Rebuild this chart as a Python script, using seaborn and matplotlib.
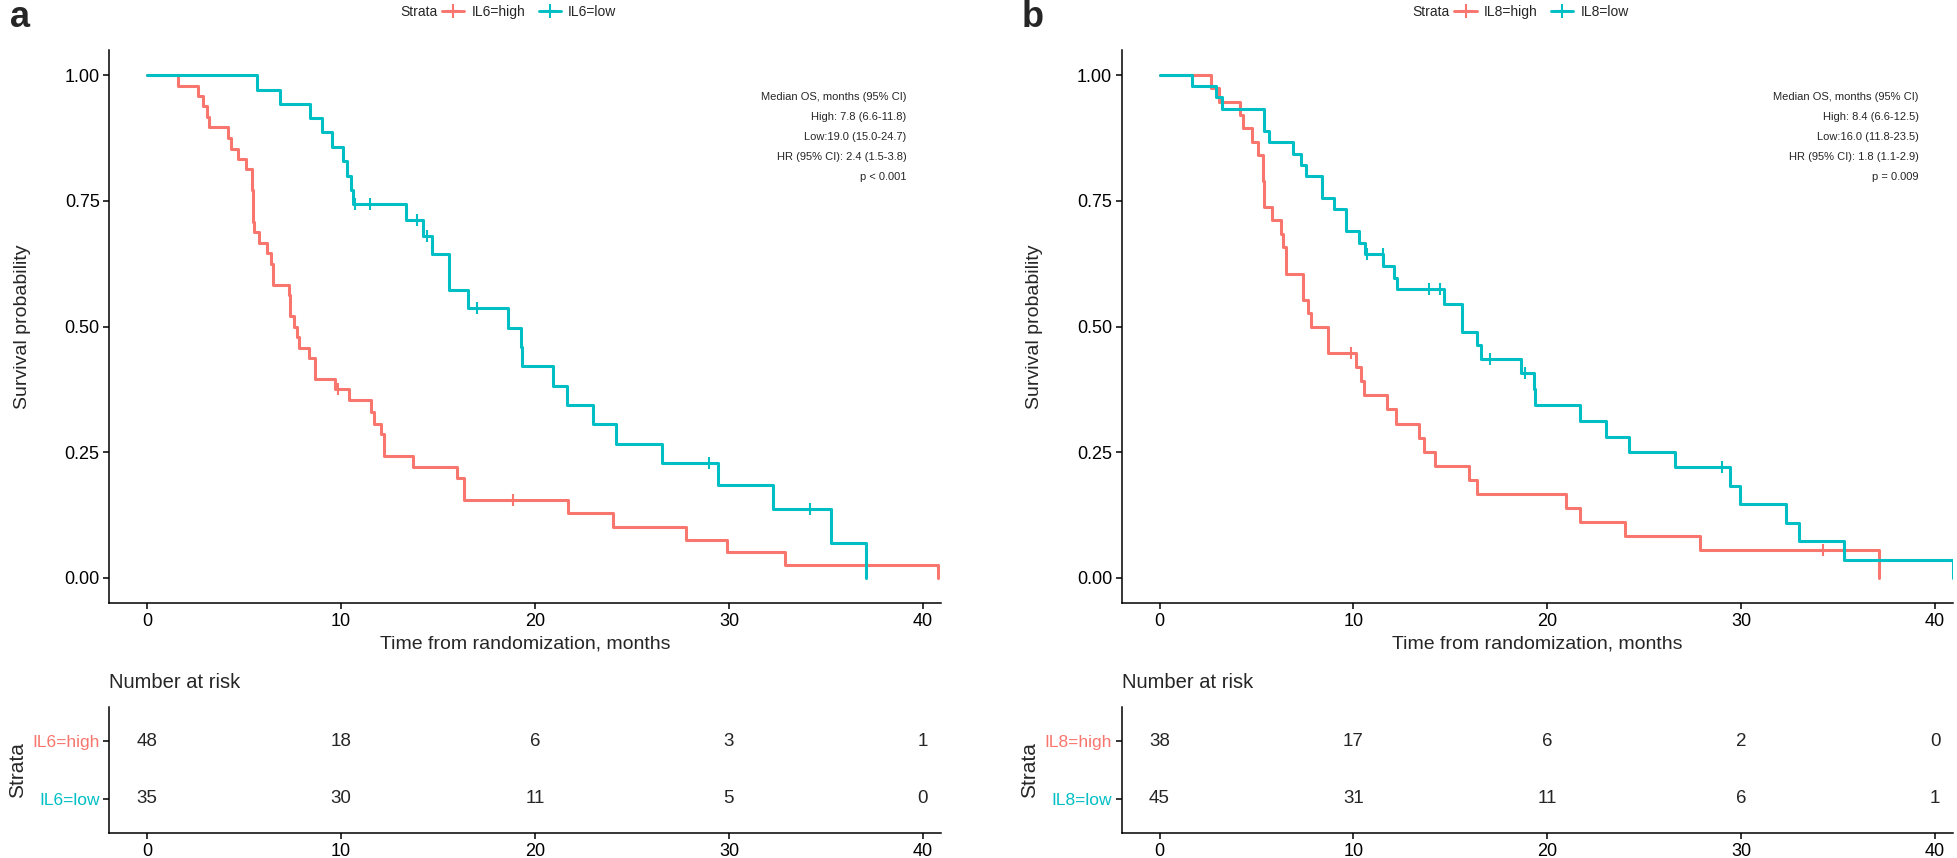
import numpy as np
import pandas as pd
import matplotlib
matplotlib.use("Agg")
import matplotlib.pyplot as plt
import seaborn as sns
from matplotlib.lines import Line2D

RED = "#F8766D"
TEAL = "#00BFC4"

# ---- panel a: IL6 ----
a_high_t = [0, 1.6, 2.6, 2.9, 3.1, 3.2, 4.15, 4.3, 4.7, 5.1, 5.38, 5.45, 5.5, 5.75,
            6.2, 6.4, 6.5, 7.3, 7.35, 7.55, 7.7, 7.85, 8.35, 8.65, 9.7, 10.4, 11.55,
            11.7, 12.05, 12.2, 13.7, 16.0, 16.35, 21.7, 24.0, 27.8, 29.9, 32.9, 40.8]
a_high_s = [1.0, 0.979, 0.958, 0.938, 0.917, 0.896, 0.875, 0.854, 0.833, 0.813, 0.771,
            0.708, 0.688, 0.667, 0.646, 0.625, 0.583, 0.5625, 0.521, 0.5, 0.479, 0.458,
            0.438, 0.396, 0.375, 0.354, 0.329, 0.307, 0.286, 0.243, 0.22, 0.198, 0.154,
            0.129, 0.102, 0.076, 0.051, 0.025, 0.0]
a_high_cens = [9.83, 18.84]

a_low_t = [0, 5.64, 6.84, 8.39, 8.99, 9.51, 10.11, 10.28, 10.49, 10.59, 13.34, 14.2,
           14.67, 15.58, 16.56, 18.62, 19.26, 19.34, 20.94, 21.63, 23.0, 24.17, 26.56,
           29.42, 32.29, 35.26, 37.07]
a_low_s = [1.0, 0.971, 0.943, 0.914, 0.886, 0.857, 0.829, 0.8, 0.771, 0.743, 0.712, 0.68,
           0.644, 0.573, 0.537, 0.498, 0.46, 0.421, 0.382, 0.344, 0.306, 0.267, 0.229,
           0.184, 0.137, 0.069, 0.0]
a_low_cens = [10.71, 11.49, 13.89, 14.44, 17.02, 28.97, 34.18]

a_strata = ["IL6=high", "IL6=low"]
a_risk_high = [48, 18, 6, 3, 1]
a_risk_low = [35, 30, 11, 5, 0]
a_notes = ["Median OS, months (95% CI)", "High: 7.8 (6.6-11.8)", "Low:19.0 (15.0-24.7)",
           "HR (95% CI): 2.4 (1.5-3.8)", "p < 0.001"]

# ---- panel b: IL8 ----
b_high_t = [0, 2.64, 3.09, 4.16, 4.3, 4.76, 5.07, 5.36, 5.4, 5.79, 6.26, 6.39, 6.52,
            7.39, 7.68, 7.82, 8.68, 10.13, 10.39, 10.52, 11.73, 12.21, 13.36, 13.62,
            14.19, 15.94, 16.38, 20.94, 21.67, 24.03, 27.87, 37.11]
b_high_s = [1.0, 0.974, 0.947, 0.921, 0.895, 0.868, 0.842, 0.789, 0.737, 0.711, 0.684,
            0.658, 0.605, 0.553, 0.526, 0.5, 0.447, 0.419, 0.391, 0.363, 0.335, 0.307,
            0.279, 0.251, 0.223, 0.195, 0.167, 0.139, 0.111, 0.083, 0.055, 0.0]
b_high_cens = [9.87, 34.22]

b_low_t = [0, 1.66, 2.92, 3.21, 5.41, 5.62, 6.86, 7.31, 7.56, 8.37, 9.01, 9.61, 10.27,
           10.61, 11.55, 12.07, 12.25, 14.65, 15.62, 16.38, 16.58, 18.65, 19.3, 19.35,
           21.67, 23.05, 24.2, 26.58, 29.42, 29.92, 32.33, 32.98, 35.3, 40.9]
b_low_s = [1.0, 0.978, 0.956, 0.933, 0.889, 0.867, 0.844, 0.822, 0.8, 0.756, 0.733,
           0.689, 0.667, 0.644, 0.62, 0.597, 0.574, 0.545, 0.49, 0.463, 0.435, 0.408,
           0.376, 0.344, 0.313, 0.281, 0.25, 0.22, 0.183, 0.147, 0.109, 0.073, 0.036, 0.0]
b_low_cens = [10.7, 11.52, 13.88, 14.48, 17.06, 18.85, 28.99]

b_strata = ["IL8=high", "IL8=low"]
b_risk_high = [38, 17, 6, 2, 0]
b_risk_low = [45, 31, 11, 6, 1]
b_notes = ["Median OS, months (95% CI)", "High: 8.4 (6.6-12.5)", "Low:16.0 (11.8-23.5)",
           "HR (95% CI): 1.8 (1.1-2.9)", "p = 0.009"]

risk_times = [0, 10, 20, 30, 40]
XLIM = (-1.95, 40.95)

sns.set_theme(style="white")
plt.rcParams["font.family"] = ["Liberation Sans", "DejaVu Sans"]
plt.rcParams["axes.edgecolor"] = "black"
plt.rcParams["axes.linewidth"] = 1.1
plt.rcParams["xtick.color"] = "black"
plt.rcParams["ytick.color"] = "black"


def step_value(times, surv, x):
    idx = np.searchsorted(times, x, side="right") - 1
    return np.asarray(surv)[idx]


def style_axis(ax):
    sns.despine(ax=ax)
    ax.tick_params(axis="both", which="both", direction="out", length=4, width=1.1,
                   labelsize=13, bottom=True, left=True, colors="black", pad=3)
    ax.set_xlim(*XLIM)
    ax.set_xticks(risk_times)


def draw_panel(left, letter, strata, curves, risk, notes):
    ax = fig.add_axes([left, 0.2972, 0.4248, 0.6445])
    for (t, s, cens), col, lab in zip(curves, [RED, TEAL], strata):
        df = pd.DataFrame({"time": t, "surv": s})
        sns.lineplot(data=df, x="time", y="surv", drawstyle="steps-post", color=col,
                     linewidth=2.2, estimator=None, sort=False, ax=ax)
        ax.plot(cens, step_value(t, s, cens), linestyle="none", marker="|",
                markersize=9, markeredgewidth=1.5, color=col)
    style_axis(ax)
    ax.set_ylim(-0.05, 1.05)
    ax.set_yticks([0, 0.25, 0.5, 0.75, 1.0])
    ax.set_yticklabels(["0.00", "0.25", "0.50", "0.75", "1.00"])
    ax.set_xlabel("Time from randomization, months", fontsize=14, labelpad=4)
    ax.set_ylabel("Survival probability", fontsize=14, labelpad=24)

    for i, line in enumerate(notes):
        ax.text(0.958, 0.915 - i * 0.0362, line, transform=ax.transAxes,
                ha="right", va="center", fontsize=8)

    handles = [Line2D([0], [0], color=c, lw=2.1, marker="+", markersize=10,
                      markeredgewidth=1.5) for c in [RED, TEAL]]
    ax.legend(handles, strata, loc="center left", bbox_to_anchor=(0.40, 1.069),
              ncol=2, frameon=False, fontsize=10, handlelength=1.6,
              handletextpad=0.5, columnspacing=1.0, borderpad=0, borderaxespad=0)
    ax.text(0.394, 1.069, "Strata", transform=ax.transAxes, ha="right", va="center",
            fontsize=10)
    fig.text(left - 0.051, 0.980, letter, fontsize=26, fontweight="bold",
             ha="left", va="center")

    # risk table
    rt = fig.add_axes([left, 0.0291, 0.4248, 0.1469])
    for row, vals in [(2, risk[0]), (1, risk[1])]:
        for t, v in zip(risk_times, vals):
            rt.text(t, row, str(v), ha="center", va="center", fontsize=13.5)
    style_axis(rt)
    rt.set_ylim(0.4, 2.6)
    rt.set_yticks([1, 2])
    rt.set_yticklabels([strata[1], strata[0]], fontsize=12.5)
    for lab, col in zip(rt.get_yticklabels(), [TEAL, RED]):
        lab.set_color(col)
    rt.set_ylabel("Strata", fontsize=15, labelpad=4)
    rt.set_xlabel("")
    rt.set_title("Number at risk", loc="left", fontsize=14.5, pad=14)


fig = plt.figure(figsize=(19.58, 8.58), dpi=100)
draw_panel(0.0559, "a", a_strata,
           [(a_high_t, a_high_s, a_high_cens), (a_low_t, a_low_s, a_low_cens)],
           (a_risk_high, a_risk_low), a_notes)
draw_panel(0.5729, "b", b_strata,
           [(b_high_t, b_high_s, b_high_cens), (b_low_t, b_low_s, b_low_cens)],
           (b_risk_high, b_risk_low), b_notes)

fig.savefig("out.png", dpi=100, facecolor="white")
